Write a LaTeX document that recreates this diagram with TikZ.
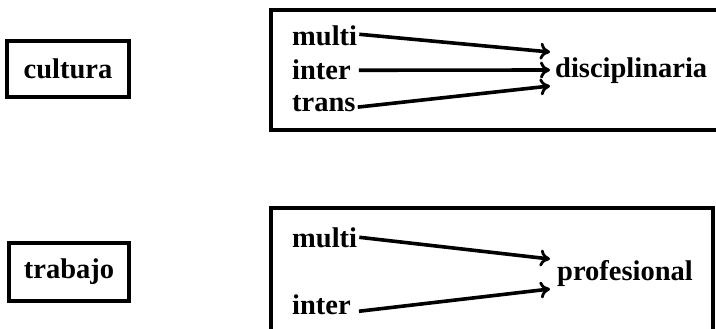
\documentclass[tikz,border=0pt]{standalone}
\usepackage{fontspec}
\setmainfont{Liberation Serif}
\usetikzlibrary{arrows.meta}
\begin{document}
\begin{tikzpicture}[x=1pt,y=-1pt,
        word/.style={font=\fontsize{28.5}{31}\selectfont\bfseries,inner sep=0pt},
        frame/.style={line width=3.2pt},
        flecha/.style={line width=3.6pt,-{To[length=10pt,width=17pt,line width=2.8pt]}}]
        \useasboundingbox (0,0) rectangle (716,329);
        \clip (0,0) rectangle (716,329);
        % izquierda
        \node[word,draw,frame,minimum width=122pt,minimum height=56pt] (cultura) at (68,69) {cultura};
        \node[word,draw,frame,minimum width=120pt,minimum height=58pt] (trabajo) at (69,272) {trabajo};
        % recuadros
        \draw[frame] (716,10) -- (271,10) -- (271,130) -- (716,130);
        \draw[frame] (271,335) -- (271,208) -- (713,208) -- (713,335);
        % arriba
        \node[word,anchor=base west] (multiA) at (292,46) {multi};
        \node[word,anchor=base west] (interA) at (292,80) {inter};
        \node[word,anchor=base west] (transA) at (292,112) {trans};
        \node[word,anchor=base west] (disc) at (555,78) {disciplinaria};
        \coordinate (tA1) at (550,52);
        \coordinate (tA2) at (550,70);
        \coordinate (tA3) at (550,86);
        \draw[flecha] ([xshift=2pt,yshift=2pt]multiA.east) -- (tA1);
        \draw[flecha] ([xshift=8pt]interA.east) -- (tA2);
        \draw[flecha] ([xshift=2pt,yshift=-3pt]transA.east) -- (tA3);
        % abajo
        \node[word,anchor=base west] (multiB) at (292,247) {multi};
        \node[word,anchor=base west] (interB) at (292,314) {inter};
        \node[word,anchor=base west] (prof) at (557,280) {profesional};
        \coordinate (tB1) at (550,259);
        \coordinate (tB2) at (550,289);
        \draw[flecha] ([xshift=2pt]multiB.east) -- (tB1);
        \draw[flecha] ([xshift=8pt,yshift=-7pt]interB.east) -- (tB2);
\end{tikzpicture}
\end{document}
